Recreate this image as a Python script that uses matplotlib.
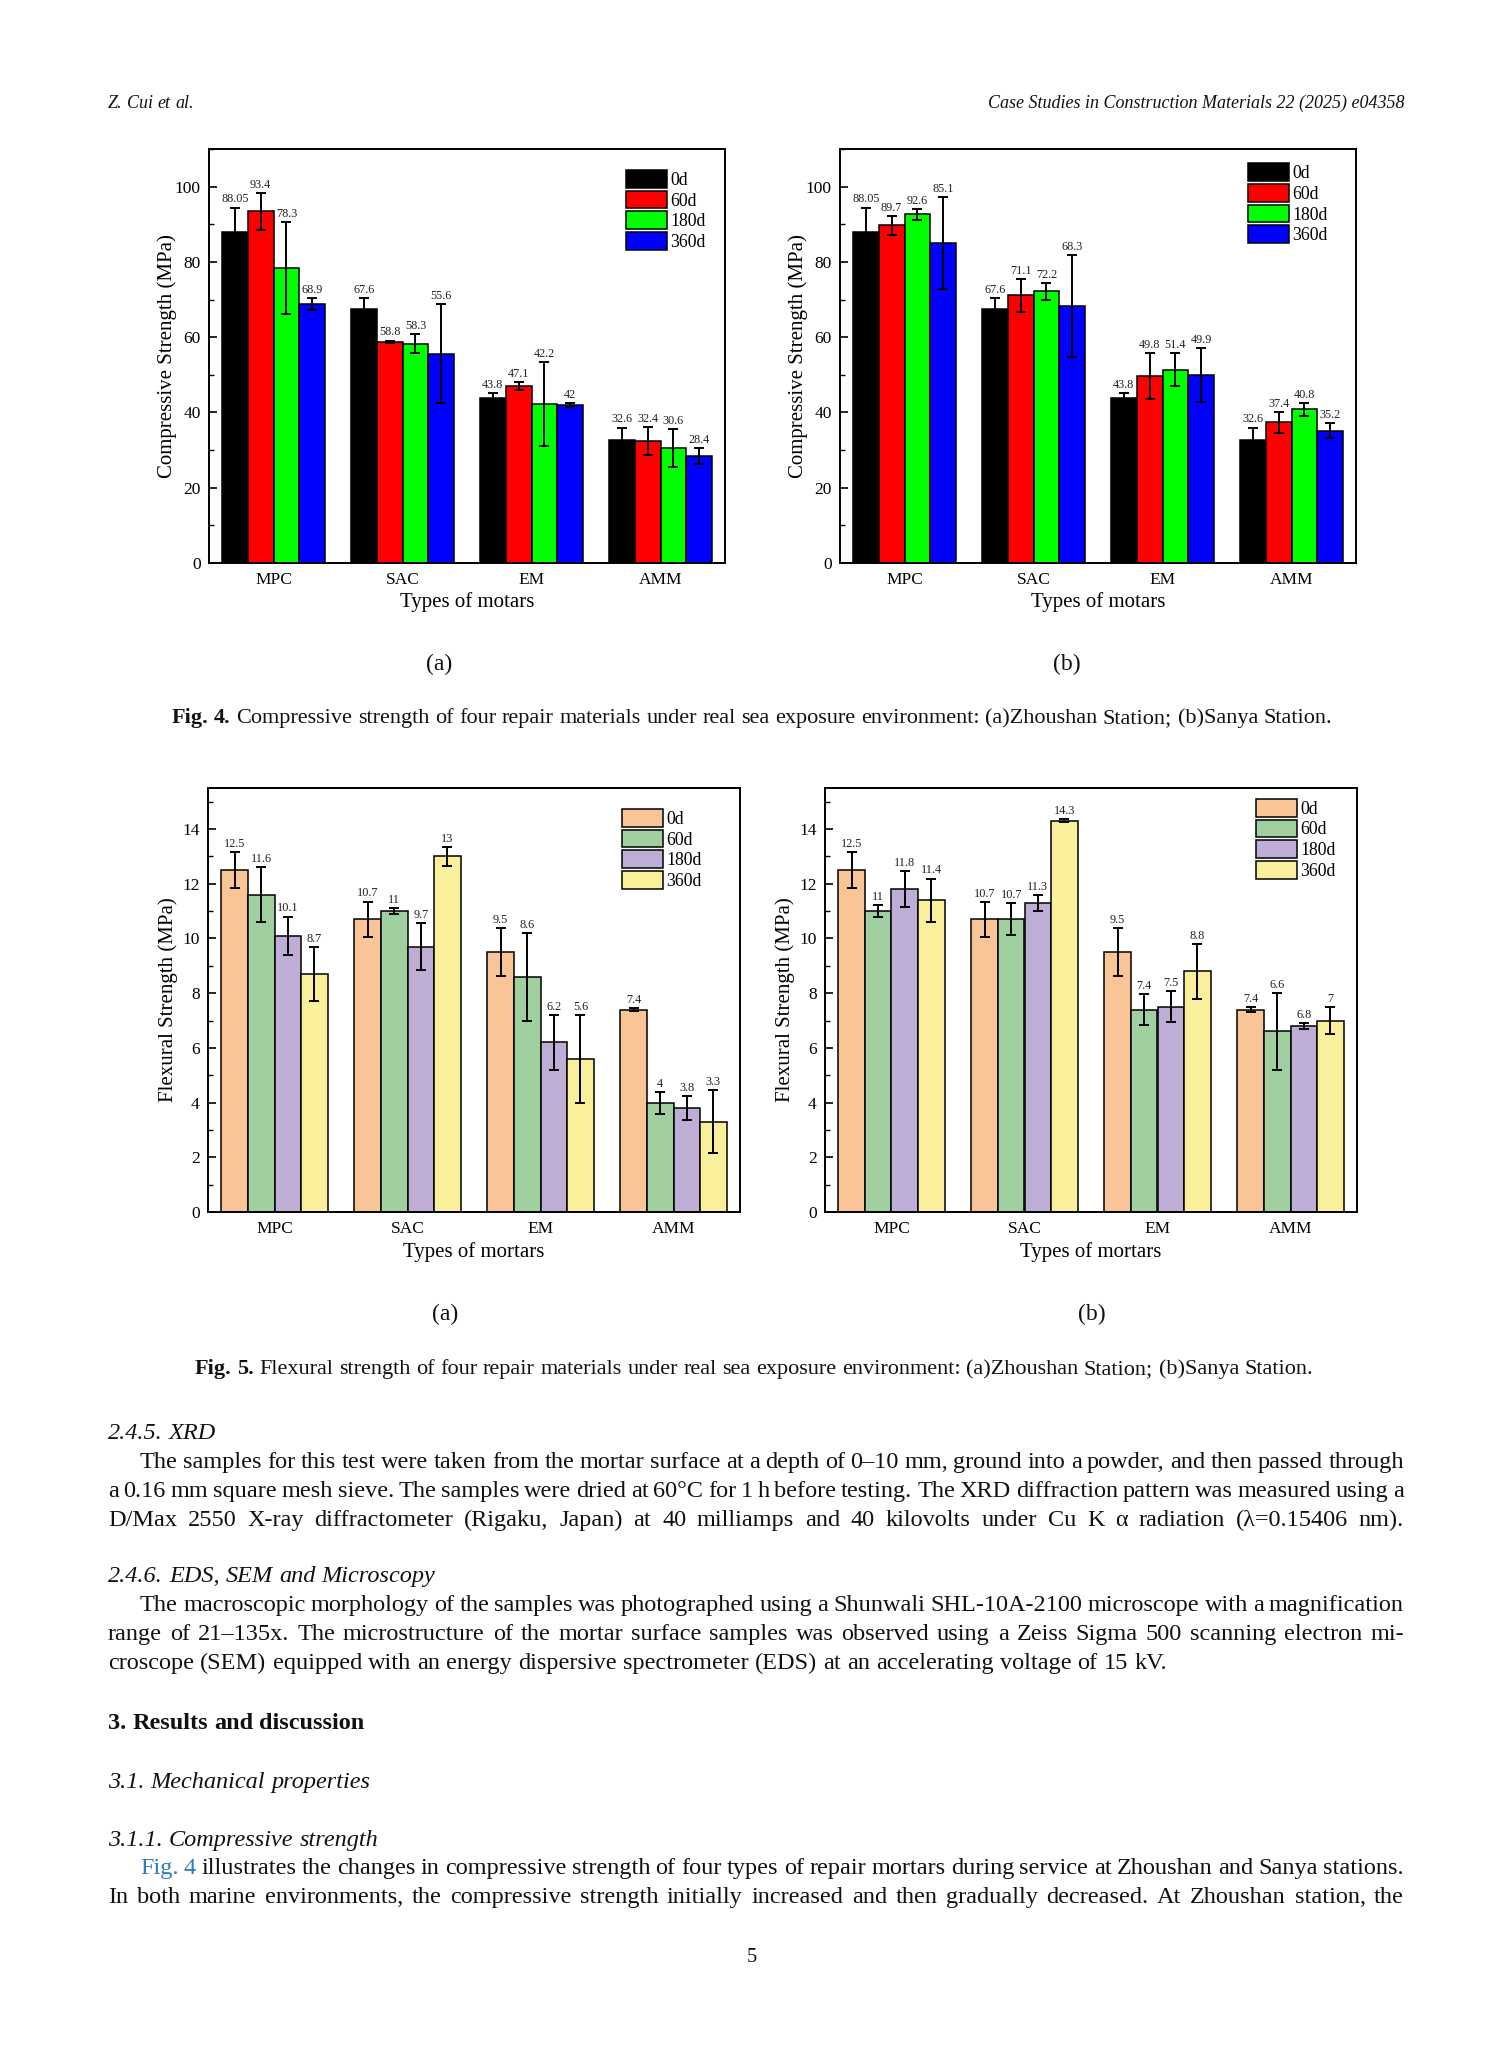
import matplotlib.pyplot as plt
import numpy as np
from matplotlib.ticker import MultipleLocator

W, H = 1512, 2063
fig = plt.figure(figsize=(W / 100, H / 100), dpi=100)
plt.rcParams['font.family'] = ['Liberation Serif', 'DejaVu Serif']

mortars = ['MPC', 'SAC', 'EM', 'AMM']
ages = ['0d', '60d', '180d', '360d']

# Fig. 4 compressive strength (MPa), rows = age, cols = mortar
zs_comp = [[88.05, 67.6, 43.8, 32.6],
           [93.4, 58.8, 47.1, 32.4],
           [78.3, 58.3, 42.2, 30.6],
           [68.9, 55.6, 42, 28.4]]
zs_comp_err = [[6.4, 2.9, 1.4, 3.4],
               [4.9, 0.3, 1.1, 3.8],
               [12.2, 2.5, 11.2, 5.1],
               [1.6, 13.1, 0.5, 2.2]]
sy_comp = [[88.05, 67.6, 43.8, 32.6],
           [89.7, 71.1, 49.8, 37.4],
           [92.6, 72.2, 51.4, 40.8],
           [85.1, 68.3, 49.9, 35.2]]
sy_comp_err = [[6.4, 2.9, 1.4, 3.4],
               [2.6, 4.3, 6.1, 2.8],
               [1.4, 2.3, 4.3, 1.8],
               [12.2, 13.6, 7.1, 2.0]]

# Fig. 5 flexural strength (MPa)
zs_flex = [[12.5, 10.7, 9.5, 7.4],
           [11.6, 11, 8.6, 4],
           [10.1, 9.7, 6.2, 3.8],
           [8.7, 13, 5.6, 3.3]]
zs_flex_err = [[0.66, 0.65, 0.87, 0.06],
               [1.0, 0.1, 1.6, 0.4],
               [0.7, 0.87, 1.0, 0.43],
               [1.0, 0.35, 1.6, 1.16]]
sy_flex = [[12.5, 10.7, 9.5, 7.4],
           [11, 10.7, 7.4, 6.6],
           [11.8, 11.3, 7.5, 6.8],
           [11.4, 14.3, 8.8, 7]]
sy_flex_err = [[0.67, 0.64, 0.87, 0.08],
               [0.21, 0.58, 0.56, 1.4],
               [0.65, 0.28, 0.57, 0.1],
               [0.79, 0.06, 1.0, 0.5]]

comp_colors = ['#000000', '#FF0000', '#00FF00', '#0000FF']
flex_colors = ['#F9C496', '#A0D0A0', '#BEAED6', '#FAF09B']


def panel(box, vals, errs, colors, ymax, major, minor, ylabel, xlabel, leg_xy, ylab_x):
    l, t, r, b = box
    ax = fig.add_axes([l / W, 1 - b / H, (r - l) / W, (b - t) / H])
    x = np.arange(len(mortars))
    w = 0.2
    for i in range(len(ages)):
        xs = x + (i - 1.5) * w
        ax.bar(xs, vals[i], w, color=colors[i], edgecolor='black', linewidth=1.1,
               label=ages[i], zorder=2)
        ax.errorbar(xs, vals[i], yerr=errs[i], fmt='none', ecolor='black',
                    elinewidth=1.4, capsize=3.3, capthick=1.4, zorder=3)
        for xx, v, e in zip(xs, vals[i], errs[i]):
            ax.annotate(f'{v:g}', (xx, v + e), xytext=(0, 1.5), textcoords='offset points',
                        ha='center', va='bottom', fontsize=8.8, color='#222222')
    ax.set_xlim(-0.5, 3.5)
    ax.set_ylim(0, ymax)
    ax.set_xticks(x)
    ax.set_xticklabels(mortars)
    ax.yaxis.set_major_locator(MultipleLocator(major))
    ax.yaxis.set_minor_locator(MultipleLocator(minor))
    ax.tick_params(axis='y', which='major', direction='in', length=6, width=1.2,
                   labelsize=12.5, pad=6)
    ax.tick_params(axis='y', which='minor', direction='in', length=3.5, width=1.0)
    ax.tick_params(axis='x', length=0, labelsize=12.5, pad=6.5)
    for s in ax.spines.values():
        s.set_linewidth(1.4)
    ax.set_ylabel(ylabel, fontsize=15)
    ax.yaxis.set_label_coords(ylab_x, 0.5)
    ax.set_xlabel(xlabel, fontsize=15)
    ax.xaxis.set_label_coords(0.5, -0.071)
    ax.legend(loc='upper left', bbox_to_anchor=leg_xy, frameon=False, fontsize=12.8,
              handlelength=2.3, handleheight=1.15, labelspacing=0.1, handletextpad=0.2,
              borderaxespad=0, borderpad=0)
    return ax


panel((209, 149, 725, 563), zs_comp, zs_comp_err, comp_colors, 110, 20, 10,
      'Compressive Strength (MPa)', 'Types of motars', (0.808, 0.949), -0.062)
panel((840, 149, 1356, 563), sy_comp, sy_comp_err, comp_colors, 110, 20, 10,
      'Compressive Strength (MPa)', 'Types of motars', (0.79, 0.965), -0.062)
panel((208, 788, 740, 1212), zs_flex, zs_flex_err, flex_colors, 15.5, 2, 1,
      'Flexural Strength (MPa)', 'Types of mortars', (0.778, 0.95), -0.056)
panel((825, 788, 1357, 1212), sy_flex, sy_flex_err, flex_colors, 15.5, 2, 1,
      'Flexural Strength (MPa)', 'Types of mortars', (0.81, 0.974), -0.056)

# ---- page text ----
renderer = fig.canvas.get_renderer()


def measure(s, size, kw):
    t = fig.text(0, 0, s, fontsize=size, **kw)
    wpx = t.get_window_extent(renderer).width
    t.remove()
    return wpx


def set_line(y, parts, x0, x1=None, size=16.0, center=None):
    words = []
    for text, kw in parts:
        for wd in text.split(' '):
            if wd:
                words.append((wd, kw))
    widths = [measure(wd, size, kw) for wd, kw in words]
    space = measure('a a', size, {}) - measure('aa', size, {})
    total = sum(widths)
    gap = space if x1 is None else (x1 - x0 - total) / (len(words) - 1)
    if center is not None:
        x0 = center - (total + gap * (len(words) - 1)) / 2
    xx = x0
    for (wd, kw), wpx in zip(words, widths):
        kw = dict(kw)
        col = kw.pop('color', '#111111')
        fig.text(xx / W, 1 - y / H, wd, fontsize=size, va='baseline', ha='left',
                 color=col, **kw)
        xx += wpx + gap
    return total + gap * (len(words) - 1)


IT = {'style': 'italic'}
BF = {'weight': 'bold'}
RM = {}
LINK = {'color': '#2B7BBF'}
LM, RMG = 108, 1404

# header
set_line(108, [('Z. Cui et al.', IT)], LM, size=13)
hdr = 'Case Studies in Construction Materials 22 (2025) e04358'
fig.text(RMG / W, 1 - 108 / H, hdr, fontsize=13, style='italic', ha='right',
         va='baseline', color='#111111')

# panel letters
for xp, yp, s in [(439, 664, '(a)'), (1067, 664, '(b)'), (445, 1314, '(a)'), (1092, 1314, '(b)')]:
    fig.text(xp / W, 1 - yp / H, s, fontsize=17, ha='center', va='center', color='#111111')

# captions (fit to width)
cap4 = [('Fig. 4.', BF), (' Compressive strength of four repair materials under real sea exposure '
        'environment: (a)Zhoushan Station; (b)Sanya Station.', RM)]
cap5 = [('Fig. 5.', BF), (' Flexural strength of four repair materials under real sea exposure '
        'environment: (a)Zhoushan Station; (b)Sanya Station.', RM)]


def natural(parts, size):
    words = [(wd, kw) for text, kw in parts for wd in text.split(' ') if wd]
    sp = measure('a a', size, {}) - measure('aa', size, {})
    return sum(measure(wd, size, kw) for wd, kw in words) + sp * (len(words) - 1)


cs = 14 * 1164 / natural(cap4, 14)
set_line(723, cap4, 0, size=cs, center=752)
set_line(1374, cap5, 0, size=cs, center=754)

# body
body = [
    (1439, [('2.4.5.  XRD', IT)], LM, None),
    (1468, [('The samples for this test were taken from the mortar surface at a depth of 0–10 mm, '
             'ground into a powder, and then passed through', RM)], 140, RMG),
    (1497, [('a 0.16 mm square mesh sieve. The samples were dried at 60°C for 1 h before testing. '
             'The XRD diffraction pattern was measured using a', RM)], LM, RMG),
    (1526, [('D/Max 2550 X-ray diffractometer (Rigaku, Japan) at 40 milliamps and 40 kilovolts '
             'under Cu K α radiation (λ=0.15406 nm).', RM)], LM, RMG),
    (1582, [('2.4.6.  EDS, SEM and Microscopy', IT)], LM, None),
    (1611, [('The macroscopic morphology of the samples was photographed using a Shunwali '
             'SHL-10A-2100 microscope with a magnification', RM)], 140, RMG),
    (1640, [('range of 21–135x. The microstructure of the mortar surface samples was observed '
             'using a Zeiss Sigma 500 scanning electron mi-', RM)], LM, RMG),
    (1669, [('croscope (SEM) equipped with an energy dispersive spectrometer (EDS) at an '
             'accelerating voltage of 15 kV.', RM)], LM, None),
    (1729, [('3.  Results and discussion', BF)], LM, None),
    (1788, [('3.1.  Mechanical properties', IT)], LM, None),
    (1846, [('3.1.1.  Compressive strength', IT)], LM, None),
    (1874, [('Fig. 4', LINK),
            (' illustrates the changes in compressive strength of four types of repair mortars '
             'during service at Zhoushan and Sanya stations.', RM)], 140, RMG),
    (1903, [('In both marine environments, the compressive strength initially increased and then '
             'gradually decreased. At Zhoushan station, the', RM)], LM, RMG),
]

bs = 16 * 1058 / natural(body[7][1], 16)
for y, parts, x0, x1 in body:
    set_line(y, parts, x0, x1, size=bs)

fig.text(752 / W, 1 - 1962 / H, '5', fontsize=bs * 0.85, ha='center', va='baseline', color='#111111')

fig.savefig('out.png', dpi=100)
